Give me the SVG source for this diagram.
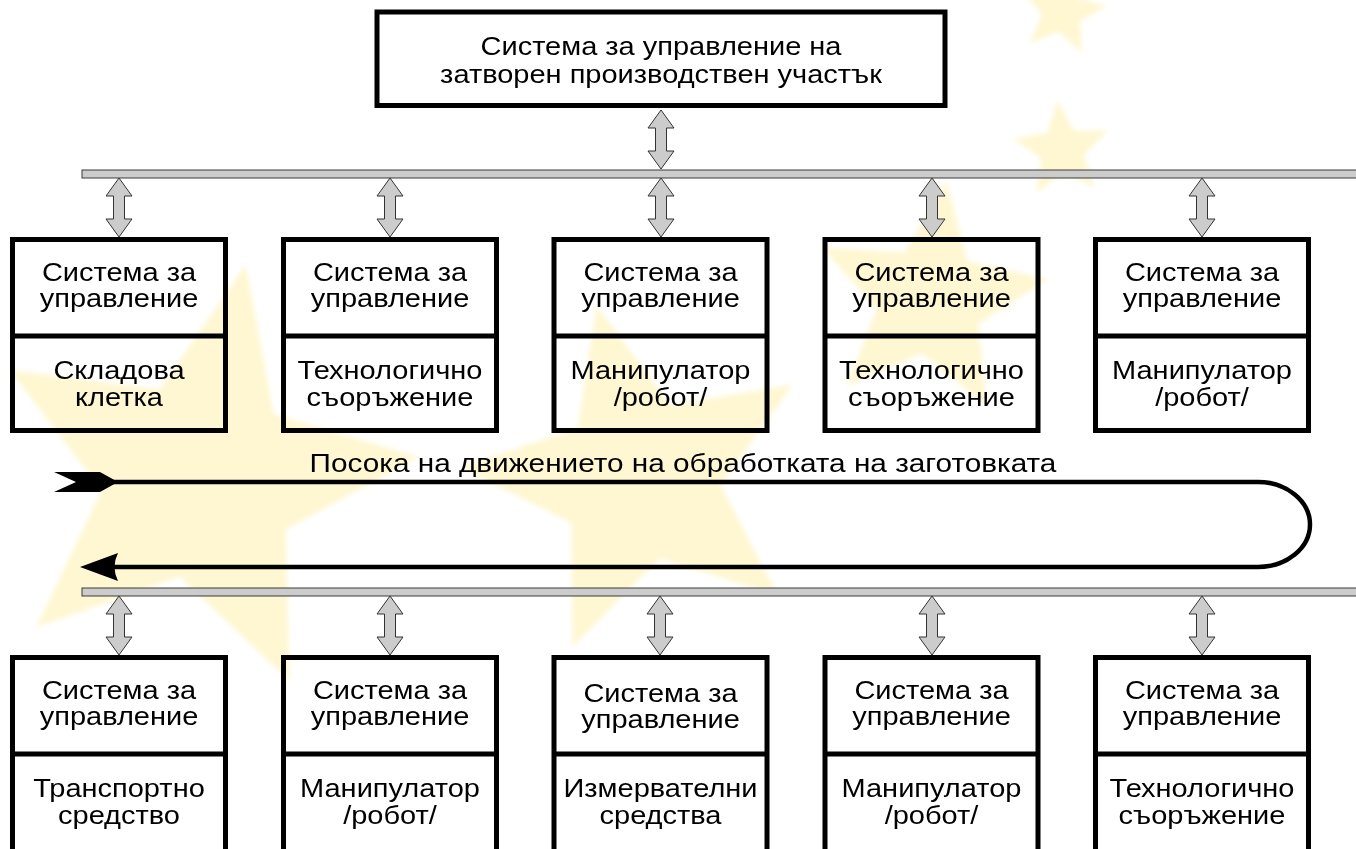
<svg xmlns="http://www.w3.org/2000/svg" width="1356" height="849" viewBox="0 0 1356 849">
<style>
.t{font-family:"Liberation Sans",Arial,sans-serif;font-size:25px;fill:#000;text-anchor:middle}
.box{fill:none;stroke:#000;stroke-width:5}
.div{stroke:#000;stroke-width:5}
.bus{fill:#cccccc;stroke:#3a3a3a;stroke-width:1}
.dbl{fill:#cccccc;stroke:#333;stroke-width:1;stroke-linejoin:miter}
.flow{fill:none;stroke:#000;stroke-width:4.5}
.star{fill:#fff7d2}
</style>
<defs>
<path id="dbl" class="dbl" d="M0,0 L13,18 L5.5,18 L5.5,41 L13,41 L0,59 L-13,41 L-5.5,41 L-5.5,18 L-13,18 Z"/>
<path id="st" d="M0,-100 L26.5,-36.4 L95.1,-30.9 L42.8,13.9 L58.8,80.9 L0,45 L-58.8,80.9 L-42.8,13.9 L-95.1,-30.9 L-26.5,-36.4 Z"/>
<filter id="soft" x="-10%" y="-10%" width="120%" height="120%"><feGaussianBlur stdDeviation="2.5"/></filter>
</defs>
<rect width="1356" height="849" fill="#fff"/>
<g id="background" class="star" filter="url(#soft)">
<use href="#st" transform="translate(200,480) rotate(12) scale(2.2)"/>
<use href="#st" transform="translate(640,480) rotate(-14) scale(1.8)"/>
<use href="#st" transform="translate(930,300) rotate(8) scale(1.2)"/>
<use href="#st" transform="translate(1062,12) rotate(10) scale(0.45)"/>
<use href="#st" transform="translate(1062,150) rotate(-5) scale(0.5)"/>
</g>
<g id="connectors">
<rect class="bus" x="82" y="170" width="1280" height="8"/>
<rect class="bus" x="82" y="588" width="1280" height="8"/>
<use href="#dbl" transform="translate(661,110)"/>
<use href="#dbl" transform="translate(119,178)"/>
<use href="#dbl" transform="translate(390,178)"/>
<use href="#dbl" transform="translate(661,178)"/>
<use href="#dbl" transform="translate(932,178)"/>
<use href="#dbl" transform="translate(1202,178)"/>
<use href="#dbl" transform="translate(119,596)"/>
<use href="#dbl" transform="translate(390,596)"/>
<use href="#dbl" transform="translate(660,596)"/>
<use href="#dbl" transform="translate(932,596)"/>
<use href="#dbl" transform="translate(1202,596)"/>
<path class="flow" d="M112,482 H1258 A52,42.5 0 0 1 1258,567 H108"/>
<polygon points="54,472 100,472 118,482 100,492 54,492 76,482" fill="#000"/>
<path d="M80,567 L118,553 Q111,567 118,581 Z" fill="#000"/>
<text class="t" transform="translate(683,472) scale(1.19,1)">Посока на движението на обработката на заготовката</text>
</g>
<g id="top">
<rect class="box" x="377" y="12" width="568" height="93.5"/>
<text class="t" transform="translate(661,55) scale(1.16,1)">Система за управление на</text>
<text class="t" transform="translate(661,83) scale(1.16,1)">затворен производствен участък</text>
</g>
<g id="r1n1">
<rect class="box" x="12.5" y="239.5" width="213" height="191"/><line class="div" x1="12.5" y1="336" x2="225.5" y2="336"/>
<text class="t" transform="translate(119,281) scale(1.16,1)">Система за</text>
<text class="t" transform="translate(119,307) scale(1.16,1)">управление</text>
<text class="t" transform="translate(119,379) scale(1.16,1)">Складова</text>
<text class="t" transform="translate(119,406) scale(1.16,1)">клетка</text>
</g>
<g id="r1n2">
<rect class="box" x="283.5" y="239.5" width="213" height="191"/><line class="div" x1="283.5" y1="336" x2="496.5" y2="336"/>
<text class="t" transform="translate(390,281) scale(1.16,1)">Система за</text>
<text class="t" transform="translate(390,307) scale(1.16,1)">управление</text>
<text class="t" transform="translate(390,379) scale(1.16,1)">Технологично</text>
<text class="t" transform="translate(390,406) scale(1.16,1)">съоръжение</text>
</g>
<g id="r1n3">
<rect class="box" x="554" y="239.5" width="213" height="191"/><line class="div" x1="554" y1="336" x2="767" y2="336"/>
<text class="t" transform="translate(660.5,281) scale(1.16,1)">Система за</text>
<text class="t" transform="translate(660.5,307) scale(1.16,1)">управление</text>
<text class="t" transform="translate(660.5,379) scale(1.16,1)">Манипулатор</text>
<text class="t" transform="translate(660.5,406) scale(1.16,1)">/робот/</text>
</g>
<g id="r1n4">
<rect class="box" x="825" y="239.5" width="213" height="191"/><line class="div" x1="825" y1="336" x2="1038" y2="336"/>
<text class="t" transform="translate(931.5,281) scale(1.16,1)">Система за</text>
<text class="t" transform="translate(931.5,307) scale(1.16,1)">управление</text>
<text class="t" transform="translate(931.5,379) scale(1.16,1)">Технологично</text>
<text class="t" transform="translate(931.5,406) scale(1.16,1)">съоръжение</text>
</g>
<g id="r1n5">
<rect class="box" x="1095.5" y="239.5" width="213" height="191"/><line class="div" x1="1095.5" y1="336" x2="1308.5" y2="336"/>
<text class="t" transform="translate(1202,281) scale(1.16,1)">Система за</text>
<text class="t" transform="translate(1202,307) scale(1.16,1)">управление</text>
<text class="t" transform="translate(1202,379) scale(1.16,1)">Манипулатор</text>
<text class="t" transform="translate(1202,406) scale(1.16,1)">/робот/</text>
</g>
<g id="r2n1">
<rect class="box" x="12.5" y="657.5" width="213" height="200"/><line class="div" x1="12.5" y1="754" x2="225.5" y2="754"/>
<text class="t" transform="translate(119,699) scale(1.16,1)">Система за</text>
<text class="t" transform="translate(119,725) scale(1.16,1)">управление</text>
<text class="t" transform="translate(119,797) scale(1.16,1)">Транспортно</text>
<text class="t" transform="translate(119,824) scale(1.16,1)">средство</text>
</g>
<g id="r2n2">
<rect class="box" x="283.5" y="657.5" width="213" height="200"/><line class="div" x1="283.5" y1="754" x2="496.5" y2="754"/>
<text class="t" transform="translate(390,699) scale(1.16,1)">Система за</text>
<text class="t" transform="translate(390,725) scale(1.16,1)">управление</text>
<text class="t" transform="translate(390,797) scale(1.16,1)">Манипулатор</text>
<text class="t" transform="translate(390,824) scale(1.16,1)">/робот/</text>
</g>
<g id="r2n3">
<rect class="box" x="554" y="657.5" width="213" height="200"/><line class="div" x1="554" y1="754" x2="767" y2="754"/>
<text class="t" transform="translate(660.5,702) scale(1.16,1)">Система за</text>
<text class="t" transform="translate(660.5,728) scale(1.16,1)">управление</text>
<text class="t" transform="translate(660.5,797) scale(1.16,1)">Измервателни</text>
<text class="t" transform="translate(660.5,824) scale(1.16,1)">средства</text>
</g>
<g id="r2n4">
<rect class="box" x="825" y="657.5" width="213" height="200"/><line class="div" x1="825" y1="754" x2="1038" y2="754"/>
<text class="t" transform="translate(931.5,699) scale(1.16,1)">Система за</text>
<text class="t" transform="translate(931.5,725) scale(1.16,1)">управление</text>
<text class="t" transform="translate(931.5,797) scale(1.16,1)">Манипулатор</text>
<text class="t" transform="translate(931.5,824) scale(1.16,1)">/робот/</text>
</g>
<g id="r2n5">
<rect class="box" x="1095.5" y="657.5" width="213" height="200"/><line class="div" x1="1095.5" y1="754" x2="1308.5" y2="754"/>
<text class="t" transform="translate(1202,699) scale(1.16,1)">Система за</text>
<text class="t" transform="translate(1202,725) scale(1.16,1)">управление</text>
<text class="t" transform="translate(1202,797) scale(1.16,1)">Технологично</text>
<text class="t" transform="translate(1202,824) scale(1.16,1)">съоръжение</text>
</g>
</svg>
